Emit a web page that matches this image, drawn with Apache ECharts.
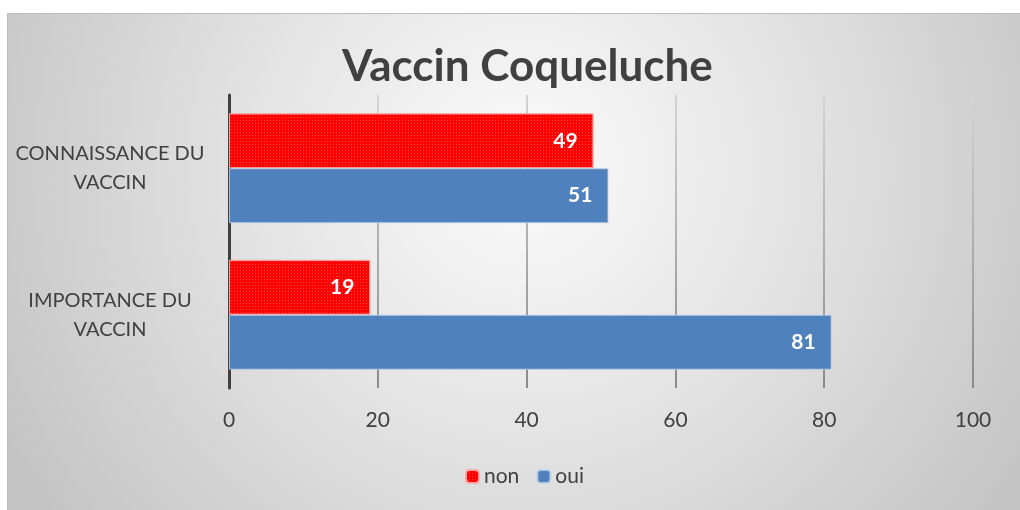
<!DOCTYPE html>
<html>
<head>
<meta charset="utf-8">
<script src="https://cdn.jsdelivr.net/npm/echarts@6/dist/echarts.min.js"></script>
<style>html,body{margin:0;padding:0;background:#fff}#c{width:1020px;height:510px}</style>
</head>
<body>
<div id="c"></div>
<script>
const title = 'Vaccin Coqueluche';
// bottom to top order on the y axis
const categories = ['IMPORTANCE DU\nVACCIN', 'CONNAISSANCE DU\nVACCIN'];
const nonValues = [19, 49];
const ouiValues = [81, 51];
const xTicks = { min: 0, max: 100, interval: 20 };

const FONT = 'Lato, "Open Sans", sans-serif';

const chart = echarts.init(document.getElementById('c'), null, { renderer: 'canvas' });
chart.setOption({
  animation: false,
  graphic: [{
    type: 'rect', z: -10, silent: true,
    shape: { x: 7.5, y: 13.5, width: 1030, height: 510 },
    style: {
      fill: { type: 'radial', x: 0.5, y: 0.3, r: 1.15, colorStops: [
        { offset: 0, color: '#fbfbfb' }, { offset: 0.45, color: '#e4e4e4' }, { offset: 1, color: '#c4c4c4' }] },
      stroke: '#bcbcbc', lineWidth: 1
    }
  }],
  title: {
    text: title, left: 337, top: 40,
    textStyle: { fontFamily: FONT, fontWeight: 'bold', fontSize: 44, color: '#404040' }
  },
  legend: {
    data: ['non', 'oui'], bottom: 18, left: 460,
    itemWidth: 13, itemHeight: 13, itemGap: 17,
    textStyle: { fontFamily: FONT, fontSize: 21, color: '#404040' }
  },
  grid: { left: 229, right: 47, top: 95, bottom: 122, containLabel: false },
  xAxis: {
    type: 'value', min: xTicks.min, max: xTicks.max, interval: xTicks.interval,
    axisLine: { show: false }, axisTick: { show: false },
    axisLabel: { fontFamily: FONT, fontSize: 21, color: '#404040', margin: 22 },
    splitLine: { lineStyle: { width: 2, color: { type: 'linear', global: true, x: 0, y: 95, x2: 0, y2: 388,
      colorStops: [{ offset: 0, color: '#d4d4d4' }, { offset: 1, color: '#8a8a8a' }] } } }
  },
  yAxis: {
    type: 'category', data: categories,
    axisLine: { lineStyle: { color: '#404040', width: 3 } },
    axisTick: { show: false },
    axisLabel: { fontFamily: FONT, fontSize: 20, color: '#404040', align: 'center', margin: 119, lineHeight: 29 }
  },
  series: [
    { name: 'non', type: 'bar', data: nonValues, barGap: '0%', barCategoryGap: '25%',
      itemStyle: { color: '#ff0000', borderColor: 'rgba(255,170,170,0.8)', borderWidth: 1,
        decal: { symbol: 'rect', symbolSize: 1, dashArrayX: [1, 2], dashArrayY: [1, 2], color: 'rgba(255,255,255,0.28)' } },
      label: { show: true, position: 'insideRight', distance: 16, color: '#fff', fontFamily: FONT, fontWeight: 'bold', fontSize: 21 } },
    { name: 'oui', type: 'bar', data: ouiValues, barGap: '0%', barCategoryGap: '25%',
      itemStyle: { color: '#4f81bd', borderColor: 'rgba(190,210,235,0.8)', borderWidth: 1 },
      label: { show: true, position: 'insideRight', distance: 16, color: '#fff', fontFamily: FONT, fontWeight: 'bold', fontSize: 21 } }
  ]
});
</script>
</body>
</html>
